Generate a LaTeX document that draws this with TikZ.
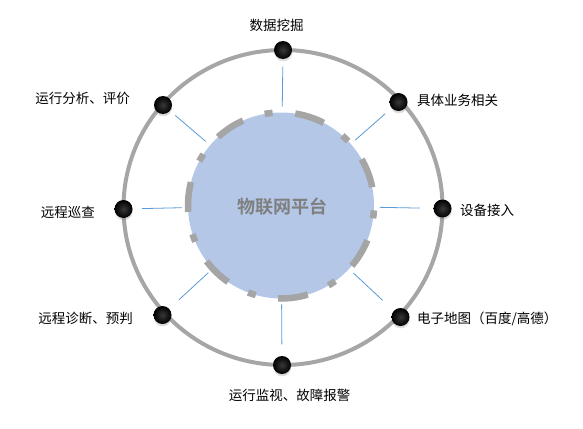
\documentclass[tikz,border=0pt]{standalone}
\usepackage{fontspec}
\newfontfamily\cjk{Noto Sans CJK SC}
\newfontfamily\cjkb{Noto Sans CJK SC Bold}
\usetikzlibrary{calc,shadows}
\definecolor{ringgray}{HTML}{A6A6A6}
\definecolor{dashgray}{HTML}{A5A5A5}
\definecolor{platblue}{HTML}{B4C7E7}
\definecolor{linkblue}{HTML}{5B9BD5}
\definecolor{titlegray}{HTML}{7F7F7F}
\tikzset{
  dotnode/.style={circle, minimum size=18pt, inner sep=0pt, shading=radial,
    inner color=black!78, outer color=black,
    circular drop shadow={shadow xshift=0pt, shadow yshift=-2pt, opacity=0.3, shadow scale=1.05}},
  lbl/.style={inner sep=0pt, font=\cjk\fontsize{13.5}{16}\selectfont, text=black},
  conn/.style={draw=linkblue, line width=0.8pt},
}
\begin{document}
\begin{tikzpicture}[x=1pt, y=-1pt]
\useasboundingbox (0,0) rectangle (583,428);
% outer ring
\coordinate (O) at (283,207.5);
\draw[ringgray, line width=4pt] (O) ellipse [x radius=159.5pt, y radius=157.5pt];
% platform
\coordinate (C) at (281,205.5);
\fill[platblue] (C) circle (93pt);
\draw[dashgray, line width=6.5pt, dash pattern=on 30pt off 22.7pt on 8pt off 22.7pt, dash phase=65pt] (C) circle (93pt);
\node[font=\cjkb\fontsize{18}{20}\selectfont, text=titlegray, inner sep=0pt] (P) at (282.5,207) {物联网平台};
% dots
\node[dotnode] (d1) at (283,50) {};
\node[dotnode] (d2) at (398.5,102) {};
\node[dotnode] (d3) at (442.5,208.5) {};
\node[dotnode] (d4) at (400.5,317) {};
\node[dotnode] (d5) at (282,365) {};
\node[dotnode] (d6) at (162.5,315) {};
\node[dotnode] (d7) at (123.5,209) {};
\node[dotnode] (d8) at (163,105) {};
% connectors
\foreach \d in {d1,d2,d3,d4,d5,d6,d7,d8}{
  \draw[conn] ($(C)!99pt!(\d)$) -- ($(C)!139pt!(\d)$);
}
% labels
\node[lbl] (t1) at (276.5,25) {数据挖掘};
\node[lbl, anchor=west] (t2) at (417,100) {具体业务相关};
\node[lbl, anchor=west] (t3) at (460,210) {设备接入};
\node[lbl, anchor=west] (t4) at (417,319) {电子地图（百度/高德）};
\node[lbl] (t5) at (289.5,395) {运行监视、故障报警};
\node[lbl, anchor=east] (t6) at (133,318) {远程诊断、预判};
\node[lbl, anchor=east] (t7) at (95,212) {远程巡查};
\node[lbl, anchor=east] (t8) at (130,98) {运行分析、评价};
\end{tikzpicture}
\end{document}
